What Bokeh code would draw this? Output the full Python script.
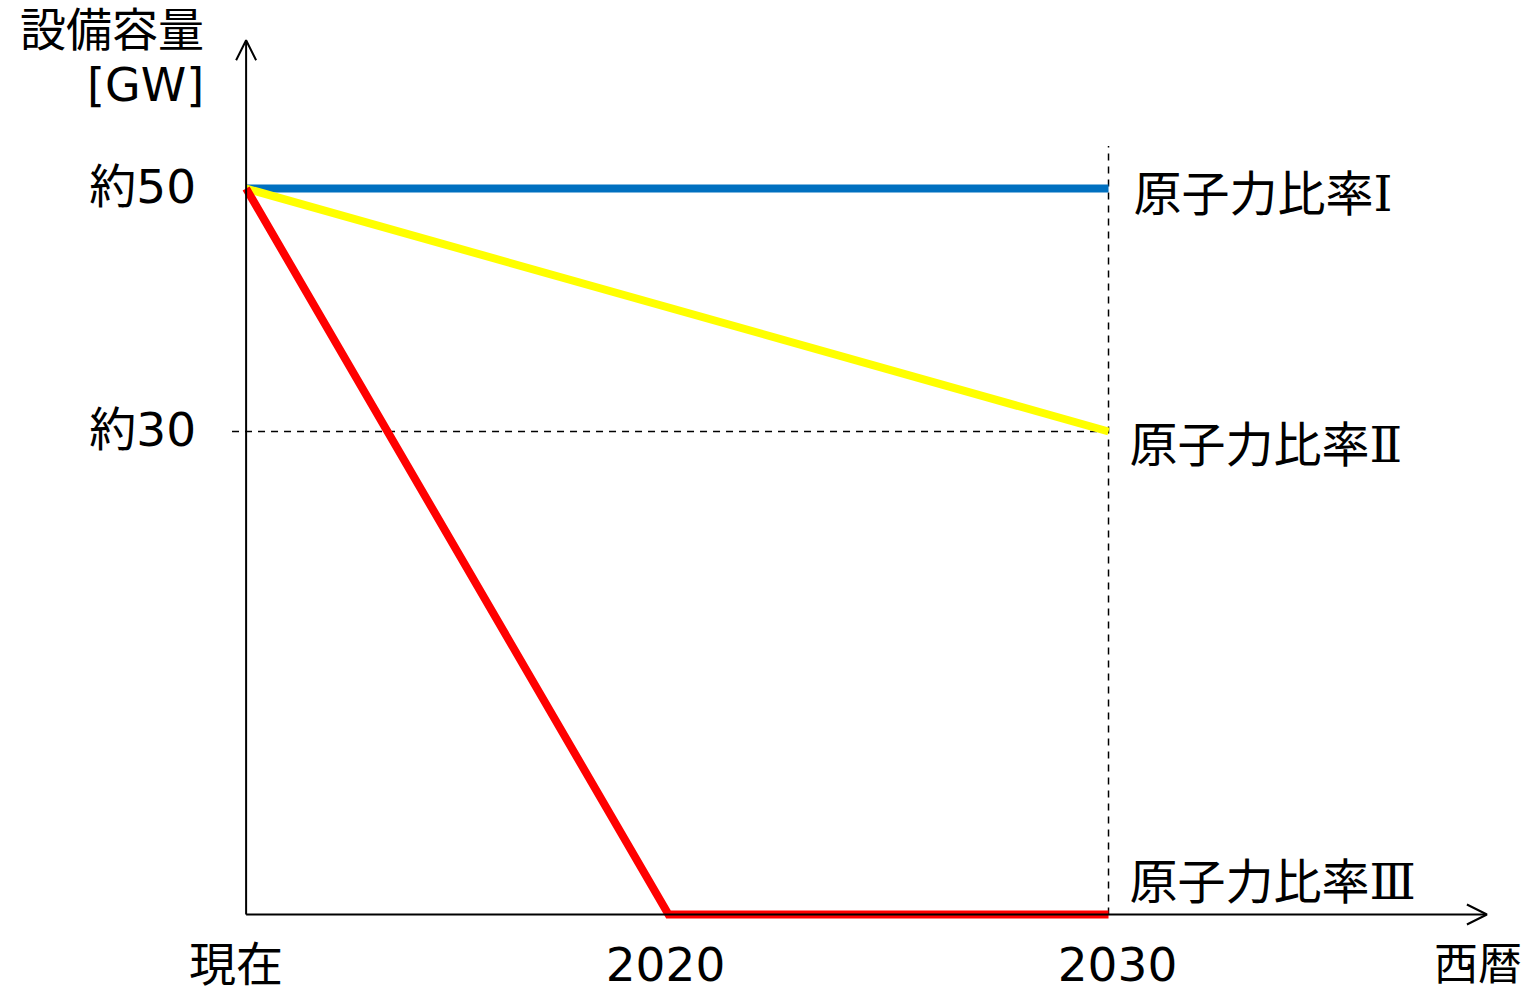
from bokeh.plotting import figure
from bokeh.models import Range1d, Arrow, OpenHead
from bokeh.core.properties import value
from bokeh.embed import file_html
from bokeh.resources import INLINE

# ---- data ----
x_tick_labels = ["現在", "2020", "2030"]
x_tick_years = [2010.4, 2020, 2030]
x_axis_end = 2038.6
x_axis_title = "西暦"

y_tick_values = [50, 30]
y_tick_labels = ["約50", "約30"]
y_axis_floor = -9.75
y_axis_top = 62.2
y_axis_title = ["設備容量", "[GW]"]

scenario_names = ["原子力比率Ⅰ", "原子力比率Ⅱ", "原子力比率Ⅲ"]
scenario_colors = ["#0070C0", "#FFFF00", "#FF0000"]
case1_years = [2010.4, 2030]
case1_gw = [50, 50]
case2_years = [2010.4, 2030]
case2_gw = [50, 30]
case3_years = [2010.4, 2020, 2030]
case3_gw = [50, -9.75, -9.75]

JP = value("Noto Sans CJK JP")
MIX = value("DejaVu Sans, Noto Sans CJK JP")
SERIF_NUM = value("DejaVu Serif, Noto Sans CJK JP")

p = figure(width=1528, height=992, output_backend="svg", toolbar_location=None,
           x_range=Range1d(2004.818, 2039.545), y_range=Range1d(-16.17, 65.473),
           x_axis_type=None, y_axis_type=None, min_border=0,
           min_border_left=0, min_border_right=0, min_border_top=0, min_border_bottom=0)
p.grid.visible = False
p.outline_line_color = None
p.background_fill_color = "white"
p.border_fill_color = "white"

# dashed guide lines
p.line([x_tick_years[0] - 0.32, case2_years[-1]], [case2_gw[-1], case2_gw[-1]],
       line_color="black", line_width=1.5, line_dash="7 6")
p.line([case1_years[-1], case1_years[-1]], [y_axis_floor, 53.5],
       line_color="black", line_width=1.5, line_dash="7 6")

# axes as arrows
p.add_layout(Arrow(end=OpenHead(size=20, line_width=2, line_color="black"),
                   x_start=x_tick_years[0], y_start=y_axis_floor,
                   x_end=x_axis_end, y_end=y_axis_floor,
                   line_width=2, line_color="black"))
p.add_layout(Arrow(end=OpenHead(size=20, line_width=2, line_color="black"),
                   x_start=x_tick_years[0], y_start=y_axis_floor,
                   x_end=x_tick_years[0], y_end=y_axis_top,
                   line_width=2, line_color="black"))

# scenario lines
for xs, ys, c in [(case1_years, case1_gw, scenario_colors[0]),
                  (case2_years, case2_gw, scenario_colors[1]),
                  (case3_years, case3_gw, scenario_colors[2])]:
    p.line(xs, ys, line_color=c, line_width=8, line_join="miter")

# scenario labels
p.text(x=[case1_years[-1]] * 3, y=[case1_gw[-1], case2_gw[-1], case3_gw[-1]],
       text=scenario_names, x_offset=[25, 21, 21], y_offset=[5, 13, -32],
       text_font=SERIF_NUM, text_font_size="48px", text_align="left",
       text_baseline="middle", text_color="black")

# y tick labels
p.text(x=[x_tick_years[0]] * 2, y=y_tick_values, text=y_tick_labels,
       x_offset=-50, y_offset=-2, text_font=MIX, text_font_size="47px",
       text_align="right", text_baseline="middle", text_color="black")

# x tick labels
p.text(x=x_tick_years, y=[y_axis_floor] * 3, text=x_tick_labels,
       x_offset=[-10, -3, 9], y_offset=50, text_font=MIX, text_font_size="47px",
       text_align="center", text_baseline="middle", text_color="black")
p.text(x=[x_axis_end], y=[y_axis_floor], text=[x_axis_title],
       x_offset=-9, y_offset=47, text_font=JP, text_font_size="44px",
       text_align="center", text_baseline="middle", text_color="black")

# y axis title
p.text(x=[x_tick_years[0]] * 2, y=[y_axis_top] * 2, text=y_axis_title,
       x_offset=-42, y_offset=[-10, 45], text_font=MIX, text_font_size="46px",
       text_align="right", text_baseline="middle", text_color="black")

open("out.html", "w").write(file_html(p, INLINE))
